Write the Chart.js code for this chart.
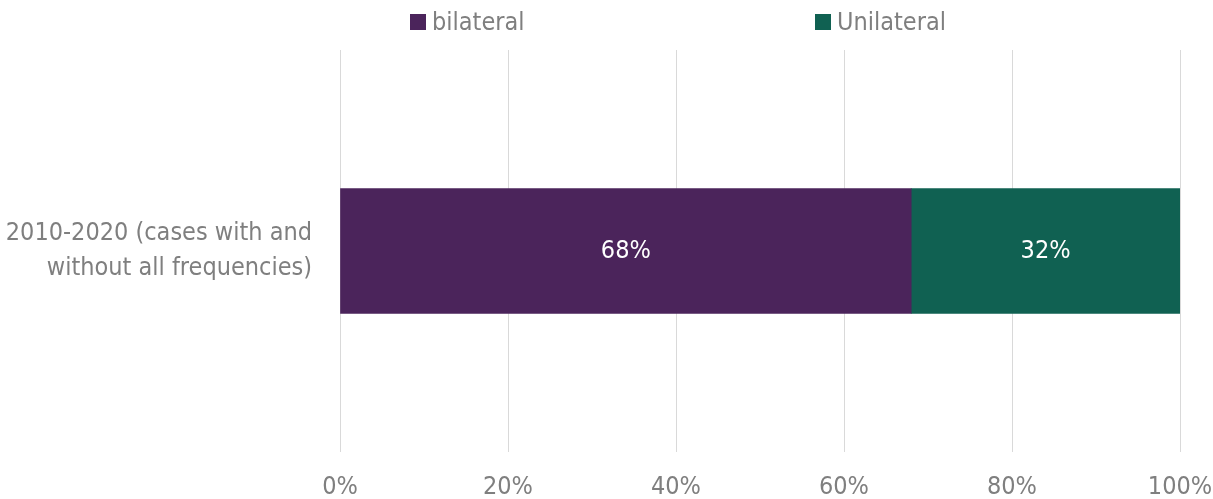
<!DOCTYPE html>
<html>
<head>
<meta charset="utf-8">
<script src="https://cdn.jsdelivr.net/npm/chart.js@4"></script>
<style>
  html, body { margin: 0; padding: 0; background: #fff; }
  #wrap { position: relative; width: 1213px; height: 499px; }
  canvas { position: absolute; left: 0; top: 0; }
  .legend-item { position: absolute; top: 6px; display: flex; align-items: center;
    font-family: 'Liberation Sans Narrow', 'DejaVu Sans Condensed', 'Roboto', sans-serif;
    font-size: 25px; color: #7f7f7f; line-height: 32px; }
  .legend-item span.box { display: inline-block; width: 16px; height: 16px; margin-right: 6px; }
</style>
</head>
<body>
<div id="wrap">
  <canvas id="c" width="1213" height="499"></canvas>
</div>
<script>
const categories = [["2010-2020 (cases with and", "without all frequencies)"]];
const seriesNames = ["bilateral", "Unilateral"];
const bilateral = [68];
const unilateral = [32];
const tickValues = [0, 20, 40, 60, 80, 100];
const colors = ["#4b245b", "#106152"];
const legendLeft = [410, 815];

const FONT = "'Liberation Sans Narrow', 'DejaVu Sans Condensed', 'Roboto', sans-serif";
const GREY = "#7f7f7f";

// HTML legend along the top
const wrap = document.getElementById('wrap');
seriesNames.forEach((name, i) => {
  const d = document.createElement('div');
  d.className = 'legend-item';
  d.style.left = legendLeft[i] + 'px';
  const b = document.createElement('span');
  b.className = 'box';
  b.style.background = colors[i];
  d.appendChild(b);
  d.appendChild(document.createTextNode(name));
  wrap.appendChild(d);
});

// Writes each segment's value in the middle of its bar
const valueLabels = {
  id: 'valueLabels',
  afterDatasetsDraw(chart) {
    const ctx = chart.ctx;
    ctx.save();
    ctx.font = "25px " + FONT;
    ctx.fillStyle = '#ffffff';
    ctx.textAlign = 'center';
    ctx.textBaseline = 'middle';
    chart.data.datasets.forEach((ds, di) => {
      chart.getDatasetMeta(di).data.forEach((bar, i) => {
        const p = bar.getCenterPoint();
        ctx.fillText(ds.data[i] + '%', p.x, p.y);
      });
    });
    ctx.restore();
  }
};

new Chart(document.getElementById('c'), {
  type: 'bar',
  data: {
    labels: categories,
    datasets: [
      { label: seriesNames[0], data: bilateral, backgroundColor: colors[0], barThickness: 125 },
      { label: seriesNames[1], data: unilateral, backgroundColor: colors[1], barThickness: 125 }
    ]
  },
  options: {
    indexAxis: 'y',
    responsive: false,
    animation: false,
    layout: { padding: { top: 50, left: 0, right: 0, bottom: 0 } },
    plugins: { legend: { display: false }, tooltip: { enabled: false } },
    scales: {
      x: {
        stacked: true,
        min: 0, max: 100,
        afterBuildTicks(scale) { scale.ticks = tickValues.map(v => ({ value: v })); },
        afterFit(scale) { scale.height = 47; scale.paddingRight = 33; scale.paddingLeft = 0; },
        grid: { color: '#d9d9d9', lineWidth: 1, drawTicks: false },
        border: { display: false },
        ticks: {
          padding: 20,
          color: GREY,
          font: { family: FONT, size: 25 },
          callback: v => v + '%'
        }
      },
      y: {
        stacked: true,
        afterFit(scale) { scale.width = 340; scale.paddingTop = 0; scale.paddingBottom = 0; },
        grid: { display: false, drawTicks: false },
        border: { display: false },
        ticks: {
          padding: 28,
          color: GREY,
          font: { family: FONT, size: 25, lineHeight: 1.4 }
        }
      }
    }
  },
  plugins: [valueLabels]
});
</script>
</body>
</html>
